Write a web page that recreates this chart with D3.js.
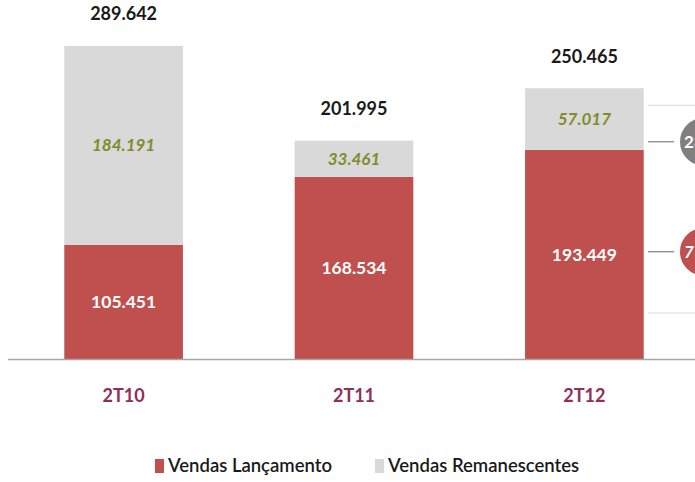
<!DOCTYPE html>
<html>
<head>
<meta charset="utf-8">
<title>Vendas</title>
<script src="https://cdnjs.cloudflare.com/ajax/libs/d3/7.8.5/d3.min.js"></script>
<style>
  body { margin: 0; background: #fff; }
  text { font-family: Lato, "Open Sans", sans-serif; }
</style>
</head>
<body>
<script>
const categories = ['2T10', '2T11', '2T12'];
const lancamento = [105.451, 168.534, 193.449];
const remanescentes = [184.191, 33.461, 57.017];
const totals = [289.642, 201.995, 250.465];
const shares = ['23%', '77%'];   // 2T12 split, circles cut off at the right edge

const width = 695, height = 482;
const baseY = 359;
const fmt = d => d.toFixed(3);

const svg = d3.select('body').append('svg')
  .attr('width', width)
  .attr('height', height);

const x = d3.scaleBand()
  .domain(categories)
  .range([9, 699])
  .paddingInner(0.485)
  .paddingOuter(0.24);

const y = d3.scaleLinear()
  .domain([0, 290])
  .range([baseY, baseY - 313.5]);

const stack = categories.map((c, i) => ({
  cat: c, red: lancamento[i], grey: remanescentes[i], total: totals[i]
}));

// right side bracket with share circles
const bx = 648;
const last = stack[2];
svg.append('line').attr('x1', bx).attr('x2', width).attr('y1', y(last.total) + 17).attr('y2', y(last.total) + 17)
  .attr('stroke', '#d9d9d9').attr('stroke-width', 1);
svg.append('line').attr('x1', bx).attr('x2', width).attr('y1', y(0) - 46).attr('y2', y(0) - 46)
  .attr('stroke', '#d9d9d9').attr('stroke-width', 1);

const circles = [
  { yv: last.red + 7.5, fill: '#7f7f7f', label: shares[0] },
  { yv: last.red / 2 + 2.5, fill: '#c0504d', label: shares[1] }
];
circles.forEach(c => {
  svg.append('line').attr('x1', bx).attr('x2', 674).attr('y1', y(c.yv)).attr('y2', y(c.yv))
    .attr('stroke', '#7f7f7f').attr('stroke-width', 1.2);
  svg.append('circle').attr('cx', 704).attr('cy', y(c.yv)).attr('r', 25)
    .attr('fill', c.fill).attr('stroke', '#fff').attr('stroke-width', 2);
  svg.append('text').attr('x', 684).attr('y', y(c.yv)).attr('dy', '0.35em')
    .attr('fill', '#fff').attr('font-size', 17).attr('font-weight', 'bold')
    .attr('font-style', c.fill === '#c0504d' ? 'italic' : 'normal')
    .text(c.label);
});

// bars
svg.selectAll('rect.red')
  .data(stack)
  .enter()
  .append('rect')
  .attr('class', 'red')
  .attr('x', d => x(d.cat))
  .attr('y', d => y(d.red))
  .attr('width', x.bandwidth())
  .attr('height', d => y(0) - y(d.red))
  .attr('fill', '#c0504d');

svg.selectAll('rect.grey')
  .data(stack)
  .enter()
  .append('rect')
  .attr('class', 'grey')
  .attr('x', d => x(d.cat))
  .attr('y', d => y(d.red + d.grey))
  .attr('width', x.bandwidth())
  .attr('height', d => y(d.red) - y(d.red + d.grey))
  .attr('fill', '#d9d9d9');

// axis line
svg.append('line')
  .attr('x1', 8).attr('x2', width)
  .attr('y1', baseY + 0.5).attr('y2', baseY + 0.5)
  .attr('stroke', '#a6a6a6').attr('stroke-width', 1.5);

const cx = d => x(d.cat) + x.bandwidth() / 2;

svg.selectAll('text.redlab')
  .data(stack)
  .enter()
  .append('text')
  .attr('class', 'redlab')
  .attr('x', cx)
  .attr('y', d => y(d.red / 2))
  .attr('dy', '0.35em')
  .attr('text-anchor', 'middle')
  .attr('fill', '#fff')
  .attr('font-size', 17.5)
  .attr('font-weight', 'bold')
  .text(d => fmt(d.red));

svg.selectAll('text.greylab')
  .data(stack)
  .enter()
  .append('text')
  .attr('class', 'greylab')
  .attr('x', cx)
  .attr('y', d => y(d.red + d.grey / 2))
  .attr('dy', '0.35em')
  .attr('text-anchor', 'middle')
  .attr('fill', '#808c2c')
  .attr('font-size', 17)
  .attr('font-weight', 'bold')
  .attr('font-style', 'italic')
  .text(d => fmt(d.grey));

svg.selectAll('text.total')
  .data(stack)
  .enter()
  .append('text')
  .attr('class', 'total')
  .attr('x', cx)
  .attr('y', d => y(d.total) - 32)
  .attr('dy', '0.35em')
  .attr('text-anchor', 'middle')
  .attr('fill', '#1a1a1a')
  .attr('font-size', 18)
  .attr('font-weight', 'bold')
  .text(d => fmt(d.total));

svg.selectAll('text.cat')
  .data(stack)
  .enter()
  .append('text')
  .attr('class', 'cat')
  .attr('x', cx)
  .attr('y', 396)
  .attr('dy', '0.35em')
  .attr('text-anchor', 'middle')
  .attr('fill', '#8e2f58')
  .attr('font-size', 18)
  .attr('font-weight', 'bold')
  .text(d => d.cat);

// legend
const legend = [
  { name: 'Vendas Lançamento', color: '#c0504d', x: 155 },
  { name: 'Vendas Remanescentes', color: '#d9d9d9', x: 375 }
];
const lg = svg.selectAll('g.leg')
  .data(legend)
  .enter()
  .append('g')
  .attr('transform', d => `translate(${d.x},466)`);
lg.append('rect')
  .attr('x', 0).attr('y', -7)
  .attr('width', 9).attr('height', 14)
  .attr('fill', d => d.color);
lg.append('text')
  .attr('x', 13)
  .attr('dy', '0.35em')
  .attr('fill', '#1a1a1a')
  .attr('font-size', 18.5)
  .attr('font-weight', 600)
  .text(d => d.name);
</script>
</body>
</html>
